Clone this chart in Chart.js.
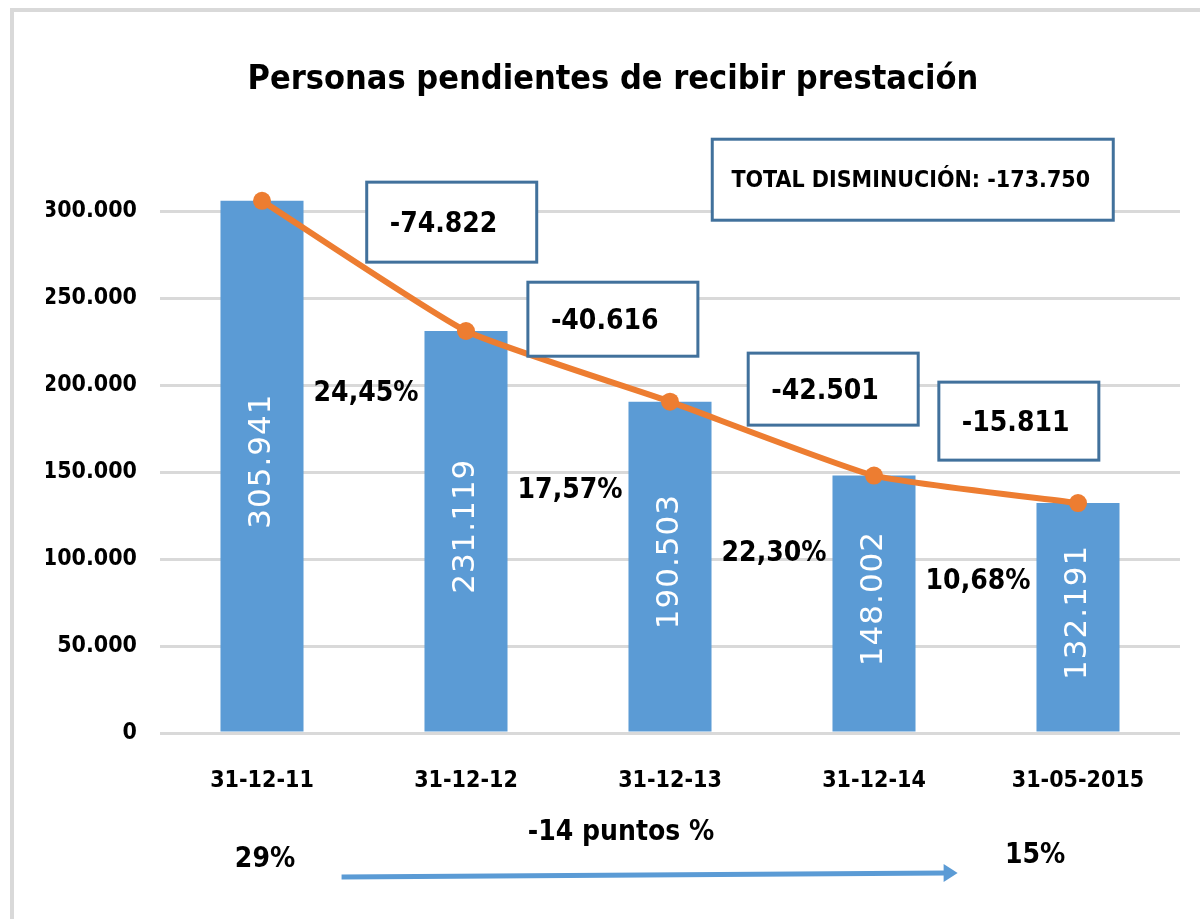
<!DOCTYPE html>
<html lang="es">
<head>
    <meta charset="UTF-8">
    <title>Personas pendientes de recibir prestación</title>
    <script src="https://cdn.jsdelivr.net/npm/chart.js"></script>
    <style>
        html, body {
            margin: 0;
            padding: 0;
            background: #ffffff;
        }
        .chart-container {
            width: 1200px;
            height: 919px;
        }
    </style>
</head>
<body>
    <div class="chart-container">
        <canvas id="pending-chart"></canvas>
    </div>

    <script>
        // Chart data
        const categories = ['31-12-11', '31-12-12', '31-12-13', '31-12-14', '31-05-2015'];
        const pendientes = [305941, 231119, 190503, 148002, 132191];
        const barLabels = ['305.941', '231.119', '190.503', '148.002', '132.191'];
        const diffLabels = ['-74.822', '-40.616', '-42.501', '-15.811'];
        const pctLabels = ['24,45%', '17,57%', '22,30%', '10,68%'];
        const yTicks = [0, 50000, 100000, 150000, 200000, 250000, 300000];
        const totalLabel = 'TOTAL DISMINUCIÓN: -173.750';
        const startShare = '29%';
        const endShare = '15%';
        const shareChange = '-14 puntos %';

        // narrow bold look: condensed DejaVu
        const NARROW = '"DejaVu Sans Condensed", "DejaVu Sans", sans-serif';
        const BOLD_C = 'bold condensed';
        const BAR_BLUE = '#5b9bd5';
        const LINE_ORANGE = '#ed7d31';
        const BOX_BLUE = '#41719c';

        function formatThousands(v) {
            return String(v).replace(/\B(?=(\d{3})+(?!\d))/g, '.');
        }

        // where the callouts sit, in category index / axis value
        const diffBoxes = [
            { x: 0.93, y: 293700, w: 170, h: 80 },
            { x: 1.72, y: 237900, w: 170, h: 74 },
            { x: 2.80, y: 197700, w: 170, h: 72 },
            { x: 3.71, y: 179300, w: 160, h: 78 }
        ];
        const totalBox = { x: 3.19, y: 318100, w: 401, h: 81 };
        const pctSpots = [
            { x: 0.51, y: 194800 },
            { x: 1.51, y: 139100 },
            { x: 2.51, y: 102900 },
            { x: 3.51, y: 86800 }
        ];

        const annotationsPlugin = {
            id: 'annotations',
            beforeDraw(chart) {
                const ctx = chart.ctx;
                ctx.save();
                ctx.strokeStyle = '#d9d9d9';
                ctx.lineWidth = 4;
                ctx.beginPath();
                ctx.moveTo(12, 919);
                ctx.lineTo(12, 10);
                ctx.lineTo(1200, 10);
                ctx.stroke();
                ctx.restore();
            },
            afterDatasetsDraw(chart) {
                const ctx = chart.ctx;
                const xs = chart.scales.x;
                const ys = chart.scales.y;
                const bottom = ys.getPixelForValue(0);
                ctx.save();

                // white values inside the bars, rotated
                const bars = chart.getDatasetMeta(1).data;
                ctx.fillStyle = '#ffffff';
                ctx.font = '31px "DejaVu Sans", sans-serif';
                ctx.textAlign = 'center';
                ctx.textBaseline = 'middle';
                if ('letterSpacing' in ctx) ctx.letterSpacing = '1px';
                bars.forEach((bar, i) => {
                    const cy = (bar.y + bar.base) / 2 - 5;
                    ctx.save();
                    ctx.translate(bar.x, cy);
                    ctx.rotate(-Math.PI / 2);
                    ctx.fillText(barLabels[i], 0, 0);
                    ctx.restore();
                });
                if ('letterSpacing' in ctx) ctx.letterSpacing = '0px';

                // boxed differences
                ctx.lineWidth = 3;
                ctx.strokeStyle = BOX_BLUE;
                diffBoxes.forEach((b, i) => {
                    const cx = xs.getPixelForValue(b.x);
                    const cy = ys.getPixelForValue(b.y);
                    const left = cx - b.w / 2;
                    const top = cy - b.h / 2;
                    ctx.fillStyle = '#ffffff';
                    ctx.fillRect(left, top, b.w, b.h);
                    ctx.strokeRect(left, top, b.w, b.h);
                    ctx.fillStyle = '#000000';
                    ctx.font = BOLD_C + ' 28px ' + NARROW;
                    ctx.textAlign = 'left';
                    ctx.textBaseline = 'middle';
                    ctx.fillText(diffLabels[i], left + 23, cy + 3);
                });

                // total box
                {
                    const cx = xs.getPixelForValue(totalBox.x);
                    const cy = ys.getPixelForValue(totalBox.y);
                    const left = cx - totalBox.w / 2;
                    const top = cy - totalBox.h / 2;
                    ctx.fillStyle = '#ffffff';
                    ctx.fillRect(left, top, totalBox.w, totalBox.h);
                    ctx.strokeRect(left, top, totalBox.w, totalBox.h);
                    ctx.fillStyle = '#000000';
                    ctx.font = BOLD_C + ' 23px ' + NARROW;
                    ctx.textAlign = 'center';
                    ctx.textBaseline = 'middle';
                    ctx.fillText(totalLabel, cx - 2, cy + 1);
                }

                // percentages between bars
                ctx.fillStyle = '#000000';
                ctx.font = BOLD_C + ' 28px ' + NARROW;
                ctx.textAlign = 'center';
                ctx.textBaseline = 'middle';
                pctSpots.forEach((p, i) => {
                    ctx.fillText(pctLabels[i], xs.getPixelForValue(p.x), ys.getPixelForValue(p.y));
                });

                // bottom notes and arrow
                ctx.font = BOLD_C + ' 28px ' + NARROW;
                ctx.fillText(startShare, xs.getPixelForValue(0) + 3, bottom + 127);
                ctx.fillText(endShare, xs.getPixelForValue(3.79), bottom + 123);
                ctx.fillText(shareChange, xs.getPixelForValue(1.76), bottom + 100);

                const ax0 = xs.getPixelForValue(0.39);
                const ax1 = xs.getPixelForValue(3.41);
                ctx.strokeStyle = BAR_BLUE;
                ctx.fillStyle = BAR_BLUE;
                ctx.lineWidth = 5;
                ctx.beginPath();
                ctx.moveTo(ax0, bottom + 144);
                ctx.lineTo(ax1 - 12, bottom + 140);
                ctx.stroke();
                ctx.beginPath();
                ctx.moveTo(ax1, bottom + 140);
                ctx.lineTo(ax1 - 14, bottom + 131);
                ctx.lineTo(ax1 - 14, bottom + 149);
                ctx.closePath();
                ctx.fill();

                ctx.restore();
            }
        };

        const ctx = document.getElementById('pending-chart').getContext('2d');
        const chart = new Chart(ctx, {
            type: 'bar',
            data: {
                labels: categories,
                datasets: [
                    {
                        type: 'line',
                        label: 'Tendencia',
                        data: pendientes,
                        borderColor: LINE_ORANGE,
                        backgroundColor: LINE_ORANGE,
                        borderWidth: 6,
                        pointRadius: 9,
                        pointHoverRadius: 9,
                        pointBackgroundColor: LINE_ORANGE,
                        pointBorderWidth: 0,
                        tension: 0.15,
                        clip: false,
                        order: 0
                    },
                    {
                        type: 'bar',
                        label: 'Personas pendientes',
                        data: pendientes,
                        backgroundColor: BAR_BLUE,
                        borderWidth: 0,
                        barPercentage: 0.407,
                        categoryPercentage: 1,
                        clip: false,
                        order: 1
                    }
                ]
            },
            options: {
                responsive: true,
                maintainAspectRatio: false,
                animation: false,
                layout: {
                    padding: { top: 0, left: 46, right: 20, bottom: 10 }
                },
                plugins: {
                    legend: { display: false },
                    tooltip: { enabled: false },
                    title: {
                        display: true,
                        text: 'Personas pendientes de recibir prestación',
                        color: '#000000',
                        font: { family: NARROW, size: 34, weight: BOLD_C, lineHeight: 1.2 },
                        padding: { top: 60, bottom: 93 }
                    }
                },
                scales: {
                    x: {
                        grid: { display: false, drawTicks: false },
                        border: { display: false },
                        ticks: {
                            color: '#000000',
                            padding: 34,
                            maxRotation: 0,
                            font: { family: NARROW, size: 23, weight: BOLD_C, lineHeight: 1.2 }
                        },
                        afterFit(scale) {
                            scale.height = 176;
                        }
                    },
                    y: {
                        min: 0,
                        max: 310000,
                        afterBuildTicks(scale) {
                            scale.ticks = yTicks.map(v => ({ value: v }));
                        },
                        grid: { color: '#d9d9d9', lineWidth: 3, drawTicks: false },
                        border: { display: false },
                        ticks: {
                            color: '#000000',
                            padding: 23,
                            font: { family: NARROW, size: 23, weight: BOLD_C, lineHeight: 1.2 },
                            callback: v => formatThousands(v)
                        },
                        afterFit(scale) {
                            scale.width = 114;
                        }
                    }
                }
            },
            plugins: [annotationsPlugin]
        });
    </script>
</body>
</html>
